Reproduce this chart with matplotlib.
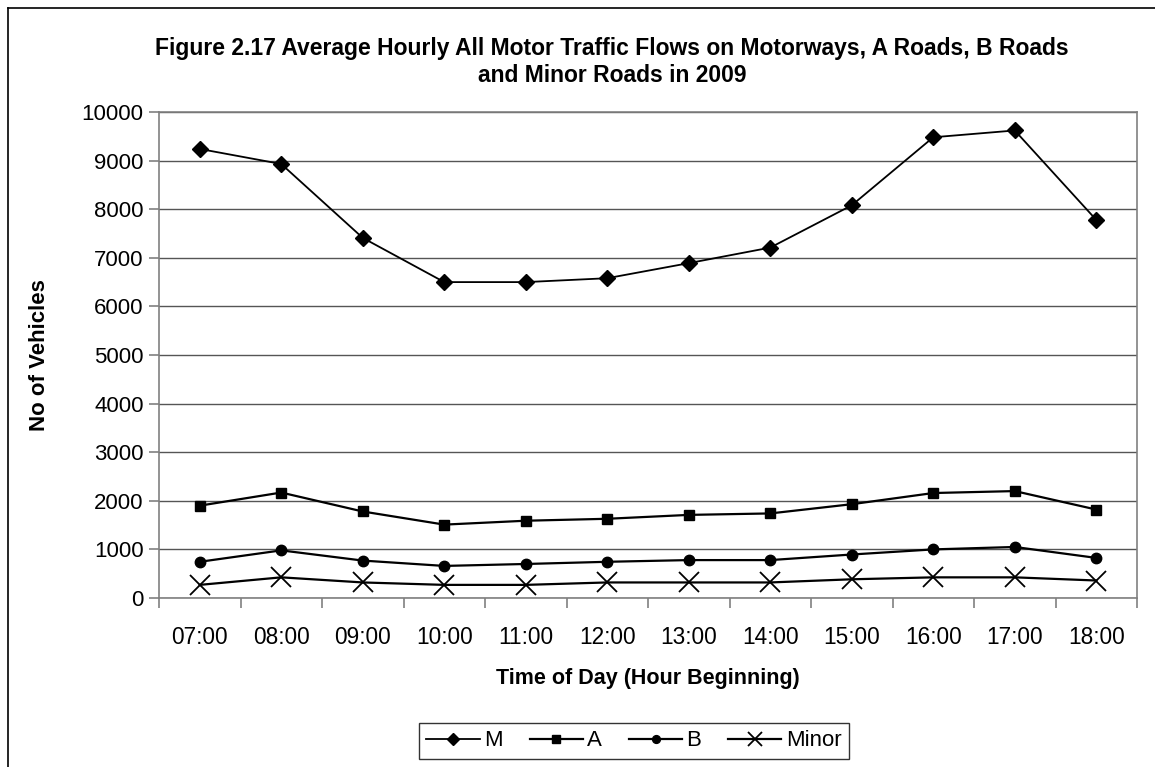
import numpy as np
import matplotlib
matplotlib.use('Agg')
import matplotlib.pyplot as plt
from matplotlib.lines import Line2D

plt.rcParams['font.family'] = ['Liberation Sans', 'DejaVu Sans']

hours = ['07:00', '08:00', '09:00', '10:00', '11:00', '12:00',
         '13:00', '14:00', '15:00', '16:00', '17:00', '18:00']
m_road = [9240, 8930, 7410, 6500, 6500, 6580, 6890, 7210, 8080, 9480, 9620, 7780]
a_road = [1900, 2170, 1780, 1510, 1590, 1630, 1710, 1740, 1930, 2160, 2200, 1820]
b_road = [745, 980, 770, 660, 700, 745, 780, 780, 895, 1000, 1050, 825]
minor = [270, 425, 320, 270, 270, 320, 320, 320, 385, 425, 425, 360]

fig = plt.figure(figsize=(11.55, 7.67), dpi=100)
ax = fig.add_axes([159/1155, 1 - 598/767, (1137-159)/1155, (598-112)/767])

x = np.arange(len(hours))
ax.plot(x, m_road, 'k-', marker='D', ms=8, lw=1.3, label='M')
ax.plot(x, a_road, 'k-', marker='s', ms=7.5, lw=1.6, label='A')
ax.plot(x, b_road, 'k-', marker='o', ms=7.5, lw=1.6, label='B')
ax.plot(x, minor, 'k-', marker='x', ms=14, mew=1.3, lw=1.6, label='Minor')

ax.set_xlim(-0.5, len(hours) - 0.5)
ax.set_ylim(0, 10000)
ax.set_yticks(np.arange(0, 10001, 1000))
ax.set_xticks(x)
ax.set_xticklabels(hours)
ax.set_xticks(np.arange(-0.5, len(hours)), minor=True)
ax.tick_params(axis='x', which='major', length=0, pad=20, labelsize=16.3)
ax.tick_params(axis='x', which='minor', length=7, color='#808080', width=1.2)
ax.tick_params(axis='y', length=7, color='#808080', width=1.2, labelsize=16, pad=4)
ax.grid(axis='y', color='#555555', lw=1.0)
ax.set_axisbelow(True)
for s in ax.spines.values():
    s.set_color('#808080')
    s.set_linewidth(1.2)

ax.set_xlabel('Time of Day (Hour Beginning)', fontsize=15.5, fontweight='bold', labelpad=14)
fig.text(40/1155, 1 - 355/767, 'No of Vehicles', rotation=90, fontsize=16,
         fontweight='bold', ha='center', va='center')

fig.text(612/1155, 1 - 62/767,
         'Figure 2.17 Average Hourly All Motor Traffic Flows on Motorways, A Roads, B Roads\nand Minor Roads in 2009',
         ha='center', va='center', fontsize=16.5, fontweight='bold', linespacing=1.2)

leg = fig.legend(loc='center', bbox_to_anchor=(634/1155, 1 - 741/767), ncol=4,
                 fontsize=16, frameon=True, fancybox=False, edgecolor='black',
                 handlelength=2.4, columnspacing=1.2, handletextpad=0.2,
                 borderpad=0.35, markerscale=0.75)
leg.get_frame().set_linewidth(1.0)

# chart area border (left and top edges visible)
fig.add_artist(Line2D([8/1155, 8/1155], [0, 1 - 8/767], transform=fig.transFigure, color='black', lw=1.2))
fig.add_artist(Line2D([8/1155, 1], [1 - 8/767, 1 - 8/767], transform=fig.transFigure, color='black', lw=1.2))

fig.savefig('out.png', dpi=100)
